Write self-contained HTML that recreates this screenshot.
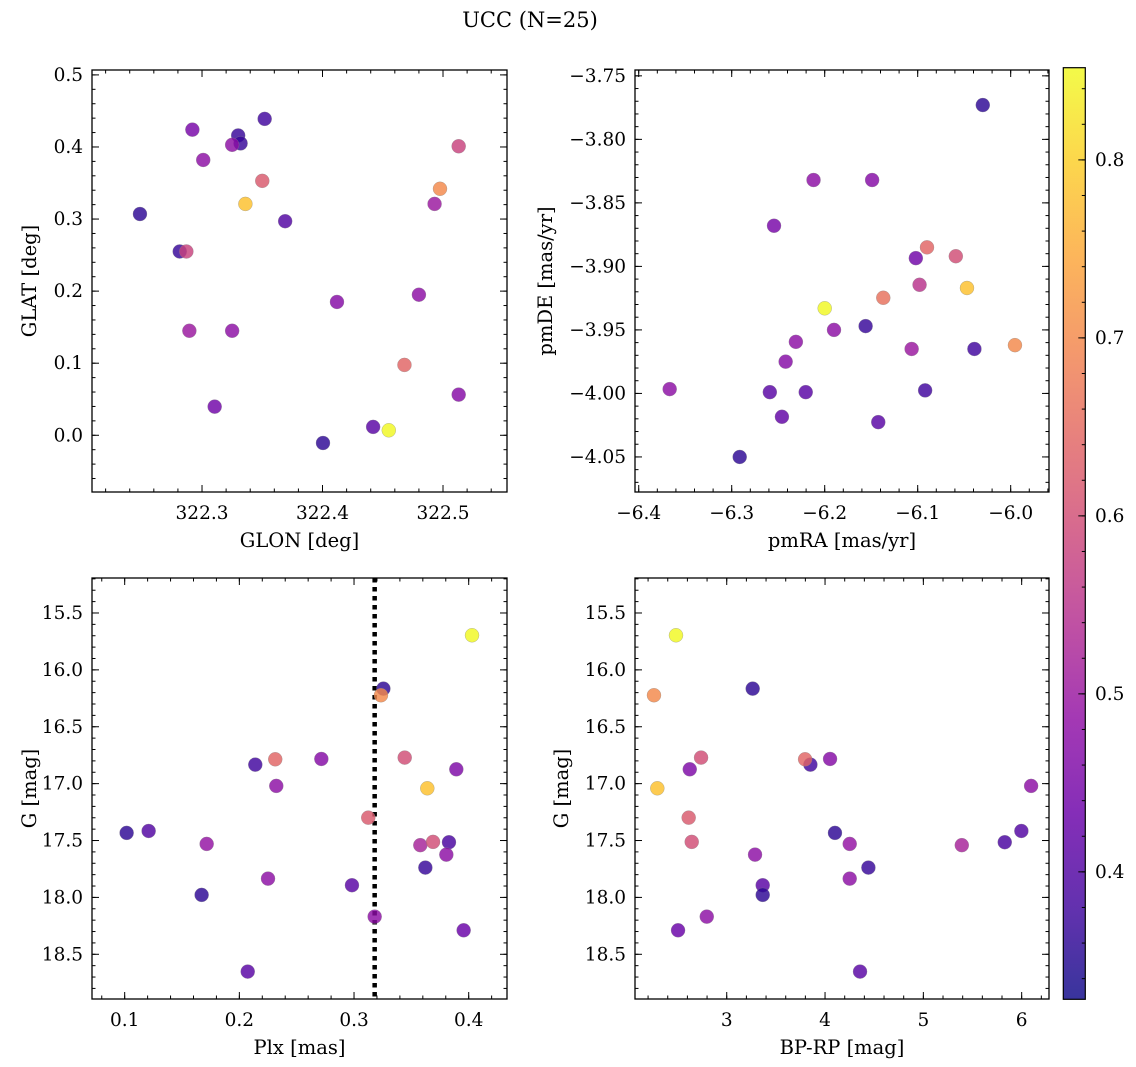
<!DOCTYPE html>
<html><head><meta charset="utf-8"><title>UCC (N=25)</title>
<style>
html,body{margin:0;padding:0;background:#fff;}
svg{display:block;font-family:"DejaVu Serif","Liberation Serif",serif;}
</style></head>
<body>
<svg id="fig" width="1136" height="1067" viewBox="0 0 1136 1067" xmlns="http://www.w3.org/2000/svg">
<defs>
<linearGradient id="cbgrad" x1="0" y1="1" x2="0" y2="0"></linearGradient>
</defs>
<text x="530" y="27" text-anchor="middle" font-size="21">UCC (N=25)</text>
</svg>
<script>
// ---- Panel 1: GLON / GLAT ----
const glon = [322.2485,322.292,322.330,322.332,322.325,322.352,322.301,322.350,322.336,322.369,322.2815,322.287,322.513,322.4975,322.493,322.480,322.412,322.2895,322.325,322.468,322.3105,322.513,322.442,322.455,322.4004];
const glat = [0.307,0.424,0.416,0.405,0.403,0.439,0.382,0.353,0.321,0.297,0.255,0.255,0.401,0.342,0.321,0.195,0.185,0.145,0.145,0.0976,0.0397,0.0564,0.0116,0.0069,-0.0107];
const col1 = [0.36,0.45,0.37,0.37,0.48,0.38,0.48,0.62,0.78,0.40,0.37,0.58,0.58,0.70,0.50,0.48,0.47,0.50,0.48,0.64,0.44,0.47,0.41,0.85,0.36];
// ---- Panel 2: pmRA / pmDE ----
const pmra = [-6.030,-6.212,-6.149,-6.2545,-6.090,-6.102,-6.059,-6.098,-6.047,-6.137,-6.200,-6.156,-6.190,-6.231,-6.1065,-6.039,-5.9954,-6.242,-6.3667,-6.259,-6.2204,-6.092,-6.246,-6.1424,-6.2914];
const pmde = [-3.773,-3.832,-3.832,-3.868,-3.885,-3.8935,-3.892,-3.9145,-3.917,-3.9247,-3.933,-3.947,-3.950,-3.9594,-3.965,-3.965,-3.962,-3.975,-3.9966,-3.999,-3.999,-3.9976,-4.0184,-4.0226,-4.050];
const col2 = [0.36,0.48,0.47,0.45,0.64,0.44,0.60,0.55,0.78,0.66,0.85,0.37,0.48,0.48,0.50,0.38,0.70,0.47,0.48,0.41,0.41,0.38,0.42,0.41,0.36];
// ---- Panels 3 & 4: Plx, G, BP-RP ----
const plx  = [0.4029,0.3256,0.3235,0.2139,0.2313,0.2322,0.2715,0.3442,0.3892,0.3639,0.3124,0.1017,0.1209,0.1715,0.3578,0.3689,0.3828,0.3805,0.3622,0.2250,0.2982,0.1671,0.3180,0.3956,0.2073];
const gmag = [15.696,16.165,16.223,16.833,16.786,17.020,16.783,16.771,16.874,17.041,17.299,17.433,17.416,17.530,17.541,17.512,17.515,17.624,17.738,17.835,17.893,17.978,18.169,18.289,18.652];
const bprp = [2.484,3.264,2.260,3.851,3.797,6.096,4.051,2.739,2.624,2.294,2.613,4.101,5.997,4.251,5.391,2.644,5.828,3.288,4.441,4.251,3.366,3.366,2.797,2.505,4.356];
const col3 = [0.85,0.36,0.70,0.38,0.64,0.48,0.47,0.60,0.46,0.78,0.62,0.36,0.40,0.49,0.52,0.60,0.39,0.48,0.37,0.48,0.41,0.36,0.48,0.43,0.41];
const plxCut = 0.318;
// ---- Tick labels ----
const ticks1x = [322.3,322.4,322.5], ticks1y = [0.0,0.1,0.2,0.3,0.4,0.5];
const ticks2x = [-6.4,-6.3,-6.2,-6.1,-6.0], ticks2y = [-3.75,-3.80,-3.85,-3.90,-3.95,-4.00,-4.05];
const ticks3x = [0.1,0.2,0.3,0.4], ticksG = [15.5,16.0,16.5,17.0,17.5,18.0,18.5];
const ticks4x = [3,4,5,6];
const cbTicks = [0.4,0.5,0.6,0.7,0.8];
const cmin = 0.3284, cmax = 0.8518;

const NS = "http://www.w3.org/2000/svg";
const svg = document.getElementById('fig');
function mk(tag, attrs, parent){ const e=document.createElementNS(NS,tag); for(const k in attrs) e.setAttribute(k,attrs[k]); (parent||svg).appendChild(e); return e; }

const plasmaStops = [[13,8,135],[65,4,157],[106,0,168],[143,13,164],[177,42,144],[204,71,120],[225,100,98],[242,132,75],[252,166,54],[252,206,37],[240,249,33]];
function plasma(t){ t=Math.max(0,Math.min(1,t)); const f=t*10, i=Math.min(9,Math.floor(f)), r=f-i;
  const a=plasmaStops[i], b=plasmaStops[i+1];
  return 'rgb('+a.map((v,k)=>Math.round(v+(b[k]-v)*r)).join(',')+')'; }
function cmap(v){ return plasma((v-cmin)/(cmax-cmin)); }

function fmtMinus(s){ return s.replace('-','\u2212'); }

function panel(cfg){
  const g = mk('g',{});
  
  
  const X = v => cfg.x0 + (v-cfg.xmin)/(cfg.xmax-cfg.xmin)*(cfg.x1-cfg.x0);
  const Y = v => cfg.y1 - (v-cfg.ymin)/(cfg.ymax-cfg.ymin)*(cfg.y1-cfg.y0);
  const clip = mk('clipPath',{id:cfg.name+'-clip'},g);
  mk('rect',{x:cfg.x0,y:cfg.y0,width:cfg.x1-cfg.x0,height:cfg.y1-cfg.y0},clip);
  const tg = mk('g',{stroke:'#000','stroke-width':1},g);
  
  
  function ticksX(step, len){
    const s=Math.ceil(cfg.xmin/step-1e-6), e=Math.floor(cfg.xmax/step+1e-6);
    for(let i=s;i<=e;i++){ const x=X(i*step);
      mk('line',{x1:x,x2:x,y1:cfg.y1,y2:cfg.y1-len},tg); mk('line',{x1:x,x2:x,y1:cfg.y0,y2:cfg.y0+len},tg);} }
  function ticksY(step, len){
    const lo=Math.min(cfg.ymin,cfg.ymax), hi=Math.max(cfg.ymin,cfg.ymax);
    const s=Math.ceil(lo/step-1e-6), e=Math.floor(hi/step+1e-6);
    for(let i=s;i<=e;i++){ const y=Y(i*step);
      mk('line',{x1:cfg.x0,x2:cfg.x0+len,y1:y,y2:y},tg); mk('line',{x1:cfg.x1,x2:cfg.x1-len,y1:y,y2:y},tg);} }
  ticksX(cfg.xminor,3.5); ticksX(cfg.xmajor,7); ticksY(cfg.yminor,3.5); ticksY(cfg.ymajor,7);
  cfg.xticks.forEach(v=>{ const t=mk('text',{x:X(v),y:cfg.y1+27,'text-anchor':'middle','font-size':18.5},g);
    t.textContent=fmtMinus(v.toFixed(cfg.xdec));
    
     });
  cfg.yticks.forEach(v=>{ const t=mk('text',{x:cfg.x0-9,y:Y(v)+6,'text-anchor':'end','font-size':18.5},g);
    t.textContent=fmtMinus(v.toFixed(cfg.ydec));
    
     });
  const xl=mk('text',{x:(cfg.x0+cfg.x1)/2,y:cfg.y1+55,'text-anchor':'middle','font-size':19.5},g);
  xl.textContent=cfg.xlabel;
  
  
  const ycx=cfg.ylabx, ycy=(cfg.y0+cfg.y1)/2;
  const yl=mk('text',{x:ycx,y:ycy,'text-anchor':'middle','font-size':19.5,transform:'rotate(-90 '+ycx+' '+ycy+')'},g);
  yl.textContent=cfg.ylabel;
  
  
  const pg = mk('g',{'clip-path':'url(#'+cfg.name+'-clip)'},g);
  if(cfg.vline!==undefined){
    const l=mk('line',{x1:X(cfg.vline),x2:X(cfg.vline),y1:cfg.y0,y2:cfg.y1,stroke:'#000','stroke-width':4.5,'stroke-dasharray':'4.5 4.5'},pg);
    
    
  }
  cfg.xs.forEach((v,i)=>{
    const c=mk('circle',{cx:X(v),cy:Y(cfg.ys[i]),r:7,fill:cmap(cfg.cs[i]),'fill-opacity':0.82,stroke:'#888','stroke-opacity':0.6,'stroke-width':0.5},pg);
    
    
  });
  const fr=mk('rect',{x:cfg.x0,y:cfg.y0,width:cfg.x1-cfg.x0,height:cfg.y1-cfg.y0,fill:'none',stroke:'#000','stroke-width':1.3},g);
  
  
}

panel({name:'glon-glat-panel',x0:92,x1:507,y0:70,y1:492,xmin:322.2087,xmax:322.5531,ymin:-0.0787,ymax:0.5068,
  xmajor:0.1,xminor:0.02,ymajor:0.1,yminor:0.02,xticks:ticks1x,yticks:ticks1y,xdec:1,ydec:1,
  xlabel:'GLON [deg]',ylabel:'GLAT [deg]',ylabx:36,xs:glon,ys:glat,cs:col1});
panel({name:'pm-panel',x0:635,x1:1049,y0:70,y1:492,xmin:-6.404,xmax:-5.9588,ymin:-4.0776,ymax:-3.7454,
  xmajor:0.1,xminor:0.02,ymajor:0.05,yminor:0.01,xticks:ticks2x,yticks:ticks2y,xdec:1,ydec:2,
  xlabel:'pmRA [mas/yr]',ylabel:'pmDE [mas/yr]',ylabx:552,xs:pmra,ys:pmde,cs:col2});
panel({name:'plx-g-panel',x0:92,x1:507,y0:578,y1:999,xmin:0.0715,xmax:0.4334,ymin:18.893,ymax:15.1925,
  xmajor:0.1,xminor:0.02,ymajor:0.5,yminor:0.1,xticks:ticks3x,yticks:ticksG,xdec:1,ydec:1,
  xlabel:'Plx [mas]',ylabel:'G [mag]',ylabx:36,xs:plx,ys:gmag,cs:col3,vline:plxCut});
panel({name:'cmd-panel',x0:635,x1:1049,y0:578,y1:999,xmin:2.067,xmax:6.278,ymin:18.893,ymax:15.1925,
  xmajor:1,xminor:0.2,ymajor:0.5,yminor:0.1,xticks:ticks4x,yticks:ticksG,xdec:0,ydec:1,
  xlabel:'BP-RP [mag]',ylabel:'G [mag]',ylabx:568,xs:bprp,ys:gmag,cs:col3});

// ---- Colorbar ----
const grad=document.getElementById('cbgrad');
for(let i=0;i<=20;i++){ mk('stop',{offset:(i/20),'stop-color':plasma(i/20)},grad); }
const cb = mk('g',{});


const cbx0=1063.3, cbx1=1085.3, cby0=67.7, cby1=999.3;
const CY = v => cby1 - (v-cmin)/(cmax-cmin)*(cby1-cby0);
mk('rect',{x:cbx0,y:cby0,width:cbx1-cbx0,height:cby1-cby0,fill:'url(#cbgrad)','fill-opacity':0.82},cb);
for(let i=Math.ceil(cmin/0.02);i<=Math.floor(cmax/0.02);i++){ const y=CY(i*0.02);
  mk('line',{x1:cbx1,x2:cbx1-3.5,y1:y,y2:y,stroke:'#000','stroke-width':1},cb); }
cbTicks.forEach(v=>{ const y=CY(v);
  mk('line',{x1:cbx1,x2:cbx1-7,y1:y,y2:y,stroke:'#000','stroke-width':1},cb);
  const t=mk('text',{x:1095,y:y+6,'font-size':18.5},cb); t.textContent=v.toFixed(1);
  
   });
mk('rect',{x:cbx0,y:cby0,width:cbx1-cbx0,height:cby1-cby0,fill:'none',stroke:'#000','stroke-width':1.2},cb);
</script>
</body></html>
